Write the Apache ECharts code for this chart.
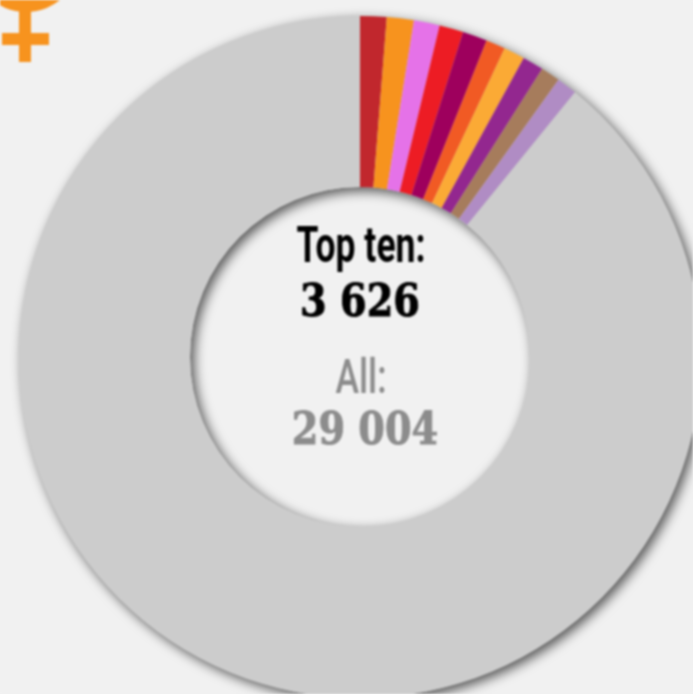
<!DOCTYPE html>
<html><head><meta charset="utf-8">
<style>html,body{margin:0;padding:0;background:#f1f1f1;overflow:hidden}#c{width:693px;height:694px;filter:blur(0.8px)}</style>
<script src="https://cdn.jsdelivr.net/npm/echarts@6/dist/echarts.min.js"></script>
</head><body><div id="c"></div>
<script>
const topTenValues = [363, 371, 354, 330, 338, 266, 290, 290, 266, 282];
const topTenColors = ['#c1272d','#f7931e','#e572e8','#ed1c24','#9e005d','#f15a24','#fbaa35','#93278f','#a67c5c','#b08cc4'];
const restColor = '#cccccc';
const allTotal = 29004;
const topLabel = 'Top ten:', topNumber = '3 626', allLabel = 'All:', allNumber = '29 004';
const restValue = allTotal - topTenValues.reduce((a,b)=>a+b,0);

const chart = echarts.init(document.getElementById('c'), null, {renderer:'canvas'});
const centerText = (text, x, y, font, fill, sx, stroke) => ({
  type:'text', x, y, scaleX:sx||1, silent:true,
  style:{text, font, fill, align:'center', verticalAlign:'middle', stroke: stroke ? fill : null, lineWidth: stroke || 0}
});
const serifFont = 'bold 45px "DejaVu Serif"';
chart.setOption({
  backgroundColor:'#f1f1f1',
  animation:false,
  series:[
    {type:'pie', silent:true, center:[360,357], radius:[170,341], startAngle:90, label:{show:false}, labelLine:{show:false},
     data:[{value:allTotal, itemStyle:{color:restColor, shadowBlur:12, shadowOffsetX:4, shadowOffsetY:4, shadowColor:'rgba(0,0,0,0.65)'}}]},
    {type:'pie', silent:true, center:[360,357], radius:[170,341], startAngle:90, clockwise:true, label:{show:false}, labelLine:{show:false},
     data:[...topTenValues.map((v,i)=>({value:v,itemStyle:{color:topTenColors[i]}})), {value:restValue,itemStyle:{color:restColor}}]}
  ],
  graphic:[
    {type:'group', silent:true, children:[
      {type:'circle', shape:{cx:26,cy:-42,r:54}, style:{fill:'#f7931e'}},
      {type:'rect', shape:{x:19,y:0,width:12,height:62}, style:{fill:'#f7931e'}},
      {type:'rect', shape:{x:2,y:33,width:47,height:12}, style:{fill:'#f7931e'}}
    ]},
    centerText(topLabel, 361, 249, 'bold 50px Roboto', '#000', 0.71),
    centerText(topNumber, 360, 304, serifFont, '#000', 0.85, 1),
    centerText(allLabel, 361, 381, '500 48px Roboto', '#8c8c8c', 0.74),
    centerText(allNumber, 365, 432, serifFont, '#8c8c8c', 0.85, 1)
  ]
});
</script></body></html>
